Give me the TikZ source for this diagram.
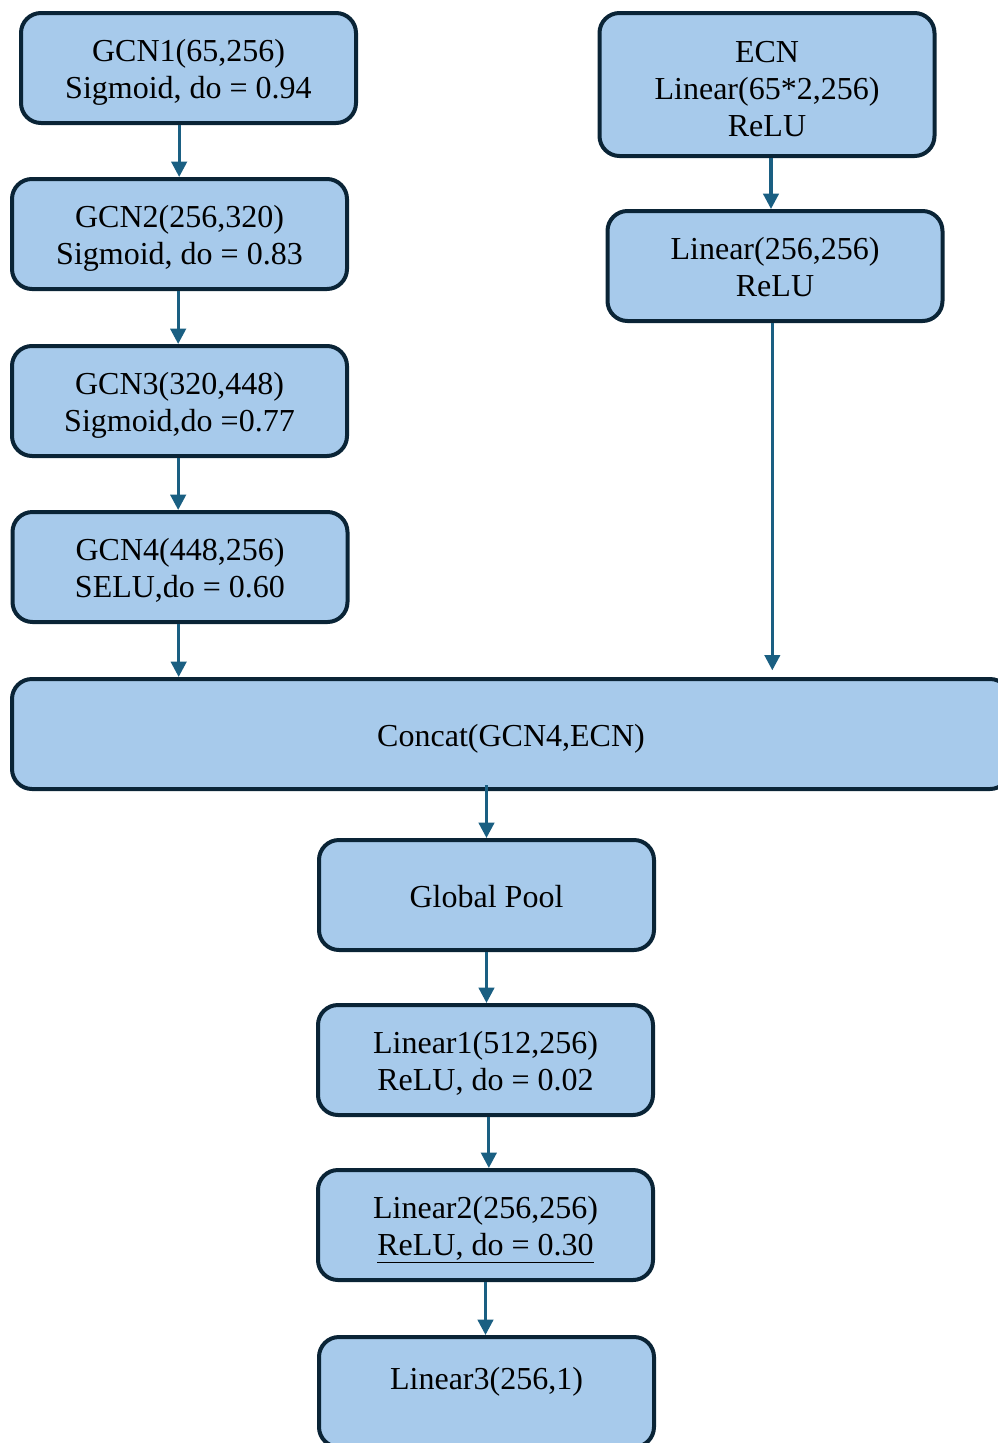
\documentclass[tikz,border=0pt]{standalone}
\usepackage{fontspec}
\setmainfont{Liberation Serif}
\usetikzlibrary{arrows.meta}
\definecolor{boxfill}{RGB}{167,202,235}
\definecolor{boxline}{RGB}{10,36,54}
\definecolor{arrowcol}{RGB}{26,95,130}
\begin{document}
\begin{tikzpicture}[x=0.75pt,y=-0.75pt,
  blk/.style={draw=boxline, fill=boxfill, line width=3pt, rounded corners=15pt,
    minimum width=251.25pt, minimum height=82.5pt, align=center, inner sep=0pt,
    font=\fontsize{24}{27.75}\selectfont, text height=20pt, text depth=2pt},
  twolines/.style={text height=47.75pt, text depth=2pt},
  threelines/.style={text height=77.5pt, text depth=0pt},
  arr/.style={draw=arrowcol, line width=2.4pt, -{Triangle[width=11.5pt,length=11.5pt]}}]
\useasboundingbox (0,0) rectangle (998,1443);
\clip (0,0) rectangle (998,1443);
\node[blk, twolines] (gcn1) at (188.5,68) {GCN1(65,256)\\Sigmoid, do = 0.94};
\node[blk, twolines] (gcn2) at (179.5,234) {GCN2(256,320)\\Sigmoid, do = 0.83};
\node[blk, twolines] (gcn3) at (179.5,401) {GCN3(320,448)\\Sigmoid,do =0.77};
\node[blk, twolines] (gcn4) at (180,567) {GCN4(448,256)\\SELU,do = 0.60};
\node[blk, threelines, minimum height=107.25pt] (ecn) at (767,84.5) {ECN\\Linear(65*2,256)\\ReLU};
\node[blk, twolines] (lin) at (775,266) {Linear(256,256)\\ReLU};
\node[blk, minimum width=748.5pt] (concat) at (511,734) {Concat(GCN4,ECN)};
\node[blk] (pool) at (486.5,895) {Global Pool};
\node[blk, twolines] (l1) at (485.5,1060) {Linear1(512,256)\\ReLU, do = 0.02};
\node[blk, twolines] (l2) at (485.5,1225) {Linear2(256,256)\\\underline{ReLU, do = 0.30}};
\node[blk, text height=41.75pt] (l3) at (486.5,1392) {Linear3(256,1)\\[-6pt]\strut};
\draw[arr] ([xshift=-7pt]gcn1.south) -- ([xshift=-7pt]gcn1.south |- gcn2.north);
\draw[arr] ([xshift=-1pt]gcn2.south) -- ([xshift=-1pt]gcn2.south |- gcn3.north);
\draw[arr] ([xshift=-1pt]gcn3.south) -- ([xshift=-1pt]gcn3.south |- gcn4.north);
\draw[arr] ([xshift=-1pt]gcn4.south) -- ([xshift=-1pt]gcn4.south |- concat.north);
\draw[arr] ([xshift=3pt]ecn.south) -- ([xshift=3pt]ecn.south |- lin.north);
\draw[arr, shorten >=5pt] ([xshift=-2pt]lin.south) -- ([xshift=-2pt]lin.south |- concat.north);
\draw[arr] ([yshift=4.5pt]pool.north |- concat.south) -- (pool.north);
\draw[arr] (pool.south) -- (pool.south |- l1.north);
\draw[arr] ([xshift=2.5pt]l1.south) -- ([xshift=2.5pt]l1.south |- l2.north);
\draw[arr] (l2.south) -- (l2.south |- l3.north);
\end{tikzpicture}
\end{document}
